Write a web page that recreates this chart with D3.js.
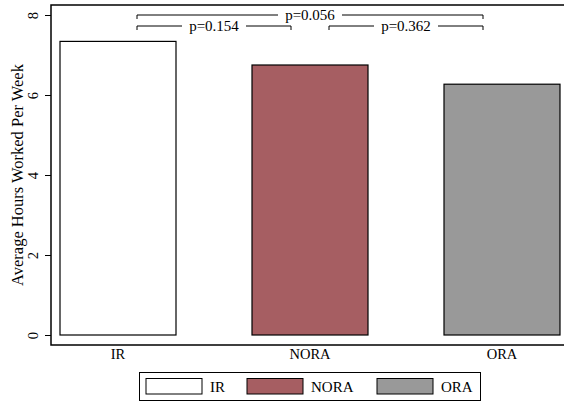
<!DOCTYPE html>
<html><head><meta charset="utf-8">
<script src="https://cdn.jsdelivr.net/npm/d3@7"></script>
<style>body{margin:0;background:#fff}svg{display:block}text{font-family:"Liberation Serif","Times New Roman",serif;fill:#000}</style>
</head><body>
<svg id="c" width="564" height="402"></svg>
<script>
const categories = ["IR", "NORA", "ORA"];
const values = [7.34, 6.75, 6.27];
const colors = ["#ffffff", "#a65e62", "#999999"];
const yTicks = [0, 2, 4, 6, 8];
const comparisons = [
  {from: "IR", to: "ORA", label: "p=0.056", level: 8.0},
  {from: "IR", to: "NORA", label: "p=0.154", level: 7.725},
  {from: "NORA", to: "ORA", label: "p=0.362", level: 7.725}
];
const yTitle = "Average Hours Worked Per Week";

const svg = d3.select("#c");
const L = 51, R = 600, T = 5, B = 345;
const x = d3.scaleBand().domain(categories).range([22, 598]);
const y = d3.scaleLinear().domain([0, 8]).range([335, 15]);
const bw = 116;

// frame
svg.append("path").attr("d", `M${R},${T}H${L}V${B}H${R}`).attr("fill","none").attr("stroke","#000").attr("stroke-width",1.5);

// y axis
const yAxis = svg.append("g").attr("transform", `translate(${L},0)`)
  .call(d3.axisLeft(y).tickValues(yTicks).tickSize(6).tickPadding(0).tickFormat(d3.format("d")));
yAxis.select(".domain").remove();
yAxis.selectAll(".tick line").attr("stroke","#000").attr("stroke-width",1);
yAxis.selectAll(".tick text").attr("font-size",14.5).attr("transform","rotate(-90)")
  .attr("x",0).attr("y",-18).attr("dy","0.35em").attr("text-anchor","middle");
svg.append("text").attr("transform","translate(17,175) rotate(-90)").attr("text-anchor","middle")
  .attr("font-size",16.5).attr("dy","0.35em").text(yTitle);

// x axis
const xAxis = svg.append("g").attr("transform", `translate(0,${B})`)
  .call(d3.axisBottom(x).tickSize(0).tickPadding(4));
xAxis.select(".domain").remove();
xAxis.selectAll(".tick text").attr("font-size",14.5).attr("dy","0.71em");

// bars
svg.selectAll("rect.bar").data(categories).join("rect").attr("class","bar")
  .attr("x", d => x(d) + x.bandwidth()/2 - bw/2)
  .attr("width", bw)
  .attr("y", (d,i) => y(values[i]))
  .attr("height", (d,i) => y(0) - y(values[i]))
  .attr("fill", (d,i) => colors[i]).attr("stroke","#000").attr("stroke-width",1.2);

// brackets
const inset = 19;
comparisons.forEach(c => {
  const x1 = x(c.from) + x.bandwidth()/2 + inset;
  const x2 = x(c.to) + x.bandwidth()/2 - inset;
  const yy = y(c.level);
  const xm = (x1 + x2)/2;
  const gap = 32;
  const g = svg.append("g");
  g.append("path").attr("d", `M${x1},${yy+4}V${yy}H${xm-gap}M${xm+gap},${yy}H${x2}V${yy+4}`)
    .attr("fill","none").attr("stroke","#000").attr("stroke-width",1);
  g.append("text").attr("x", xm).attr("y", yy).attr("dy","0.3em").attr("text-anchor","middle")
    .attr("font-size",15).text(c.label);
});

// legend
const lg = svg.append("g");
lg.append("rect").attr("x",139.5).attr("y",372.5).attr("width",341).attr("height",28)
  .attr("fill","#fff").attr("stroke","#000").attr("stroke-width",1);
const lx = [146, 247, 377];
categories.forEach((c,i) => {
  lg.append("rect").attr("x", lx[i]).attr("y",378.5).attr("width",56).attr("height",15.5)
    .attr("fill", colors[i]).attr("stroke","#000").attr("stroke-width",1);
  lg.append("text").attr("x", lx[i] + 64).attr("y", 386.5).attr("dy","0.35em")
    .attr("font-size",15).text(c);
});
</script>
</body></html>
